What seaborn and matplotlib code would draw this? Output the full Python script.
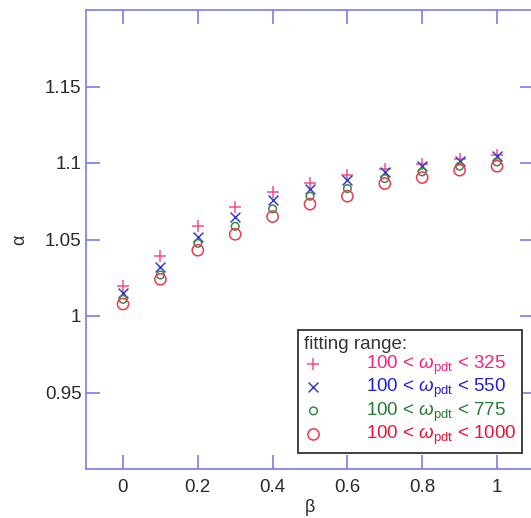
import matplotlib
matplotlib.use("Agg")
import matplotlib.pyplot as plt
import numpy as np
import pandas as pd
import seaborn as sns

# beta grid and fitted alpha for each fitting range
beta = [0.0, 0.1, 0.2, 0.3, 0.4, 0.5, 0.6, 0.7, 0.8, 0.9, 1.0]
alpha_325 = [1.0196, 1.0392, 1.0590, 1.0712, 1.0810, 1.0870, 1.0920, 1.0964, 1.0992, 1.1029, 1.1050]
alpha_550 = [1.0152, 1.0322, 1.0517, 1.0645, 1.0756, 1.0833, 1.0888, 1.0942, 1.0979, 1.1014, 1.1044]
alpha_775 = [1.0109, 1.0268, 1.0475, 1.0586, 1.0700, 1.0783, 1.0833, 1.0898, 1.0942, 1.0979, 1.1007]
alpha_1000 = [1.0078, 1.0240, 1.0430, 1.0534, 1.0650, 1.0731, 1.0783, 1.0866, 1.0905, 1.0953, 1.0979]

range_labels = [r"100 < $\omega_{\mathrm{pdt}}$ < 325",
                r"100 < $\omega_{\mathrm{pdt}}$ < 550",
                r"100 < $\omega_{\mathrm{pdt}}$ < 775",
                r"100 < $\omega_{\mathrm{pdt}}$ < 1000"]
x_ticks = [0, 0.2, 0.4, 0.6, 0.8, 1]
y_ticks = [0.95, 1.0, 1.05, 1.1, 1.15]

sns.set_theme(style="white")
plt.rcParams["font.family"] = ["Liberation Sans", "DejaVu Sans"]
plt.rcParams["mathtext.fontset"] = "custom"
plt.rcParams["mathtext.rm"] = "Liberation Sans"
plt.rcParams["mathtext.it"] = "Liberation Sans:italic"

axis_col = "#7a7aee"
text_col = "#2a2a2a"

fig = plt.figure(figsize=(5.31, 5.18), dpi=100)
ax = fig.add_axes([85.6 / 531, (518 - 469) / 518, 448.8 / 531, 459 / 518])

series = [
    (alpha_325, "+", "#ff4a8a", 75),
    (alpha_550, "x", "#3a3ad0", 50),
    (alpha_775, "o", "#3a8a4a", 30),
    (alpha_1000, "o", "#ee3a4a", 65),
]
text_colors = ["#ff2080", "#2020e0", "#287a38", "#ee1133"]

for (vals, mk, col, sz), lab in zip(series, range_labels):
    df = pd.DataFrame({"beta": beta, "alpha": vals})
    if mk == "o":
        sns.scatterplot(data=df, x="beta", y="alpha", ax=ax, marker=mk, s=sz,
                        facecolor="none", edgecolor=col, linewidth=1.1, label=lab)
    else:
        sns.scatterplot(data=df, x="beta", y="alpha", ax=ax, marker=mk, s=sz,
                        color=col, linewidth=1.1, label=lab)

ax.set_xlim(-0.1, 1.1)
ax.set_ylim(0.9, 1.2)
ax.set_xticks(x_ticks)
ax.set_xticklabels([f"{v:g}" for v in x_ticks])
ax.set_yticks(y_ticks)
ax.set_yticklabels([f"{v:g}" for v in y_ticks])

for sp in ax.spines.values():
    sp.set_color(axis_col)
    sp.set_linewidth(1.2)
ax.tick_params(axis="both", which="major", direction="in", length=10, width=1.2,
               color=axis_col, labelcolor=text_col, labelsize=13.5,
               top=True, right=True, bottom=True, left=True)
ax.tick_params(axis="x", pad=7)
ax.tick_params(axis="y", pad=3)

ax.set_xlabel("β", fontsize=13, color=text_col, labelpad=2)
ax.set_ylabel("α", fontsize=13, color=text_col, labelpad=12)

leg = ax.legend(title="fitting range:", loc="lower right",
                bbox_to_anchor=(0.9724, 0.0349), borderaxespad=0,
                fontsize=13.5, title_fontsize=13.5, frameon=True,
                fancybox=False, handletextpad=2.3, labelspacing=0.02,
                borderpad=0.3, handlelength=1.0)
leg._legend_box.align = "left"
leg.get_title().set_color("#333333")
frame = leg.get_frame()
frame.set_edgecolor("#333333")
frame.set_linewidth(1.3)
frame.set_facecolor("white")
frame.set_alpha(1)
for t, c in zip(leg.get_texts(), text_colors):
    t.set_color(c)

fig.savefig("out.png", dpi=100, facecolor="white")
